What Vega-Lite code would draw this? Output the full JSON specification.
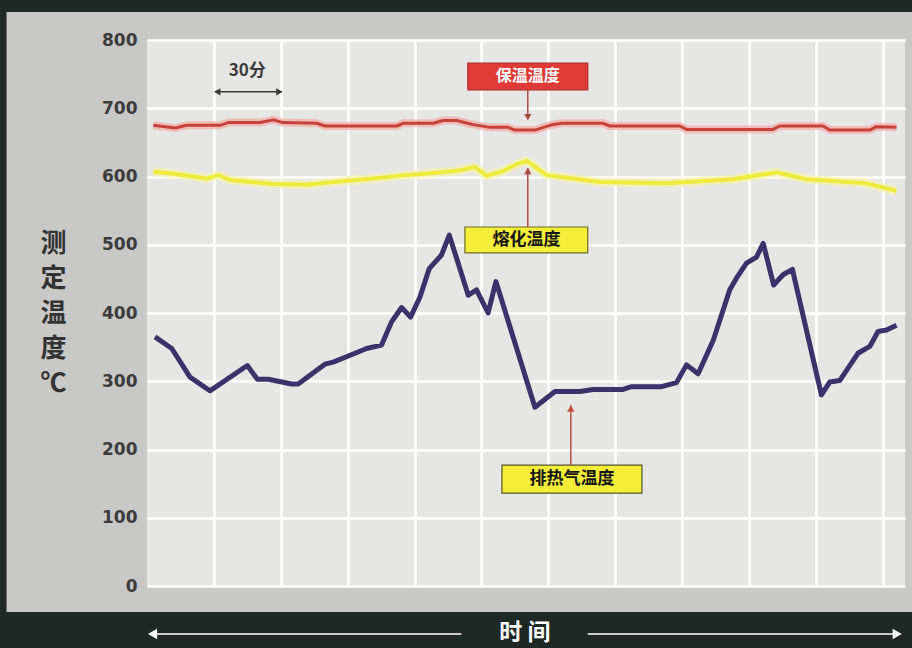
{
  "$schema": "https://vega.github.io/schema/vega-lite/v6.json",
  "width": 758,
  "height": 546,
  "autosize": {"type": "none"},
  "padding": {"left": 147, "top": 40, "right": 7, "bottom": 62},
  "background": "#c8c8c6",
  "view": {"fill": "#e6e6e4", "stroke": null},
  "datasets": {
    "temps": [
      {"series": "保温温度", "t": 2.8, "v": 675},
      {"series": "保温温度", "t": 12.6, "v": 671},
      {"series": "保温温度", "t": 17.8, "v": 675},
      {"series": "保温温度", "t": 32.7, "v": 675},
      {"series": "保温温度", "t": 36.5, "v": 679},
      {"series": "保温温度", "t": 50.7, "v": 679},
      {"series": "保温温度", "t": 56.6, "v": 683},
      {"series": "保温温度", "t": 61.1, "v": 679},
      {"series": "保温温度", "t": 76.1, "v": 678},
      {"series": "保温温度", "t": 79.8, "v": 674},
      {"series": "保温温度", "t": 112.0, "v": 674},
      {"series": "保温温度", "t": 114.9, "v": 678},
      {"series": "保温温度", "t": 128.4, "v": 678},
      {"series": "保温温度", "t": 132.9, "v": 682},
      {"series": "保温温度", "t": 138.9, "v": 682},
      {"series": "保温温度", "t": 146.3, "v": 676},
      {"series": "保温温度", "t": 153.8, "v": 672},
      {"series": "保温温度", "t": 162.0, "v": 672},
      {"series": "保温温度", "t": 165.0, "v": 668},
      {"series": "保温温度", "t": 174.0, "v": 668},
      {"series": "保温温度", "t": 180.7, "v": 675},
      {"series": "保温温度", "t": 185.9, "v": 678},
      {"series": "保温温度", "t": 204.6, "v": 678},
      {"series": "保温温度", "t": 207.6, "v": 674},
      {"series": "保温温度", "t": 239.0, "v": 674},
      {"series": "保温温度", "t": 242.0, "v": 669},
      {"series": "保温温度", "t": 280.8, "v": 669},
      {"series": "保温温度", "t": 283.8, "v": 674},
      {"series": "保温温度", "t": 303.2, "v": 674},
      {"series": "保温温度", "t": 306.3, "v": 668},
      {"series": "保温温度", "t": 324.2, "v": 668},
      {"series": "保温温度", "t": 327.2, "v": 673},
      {"series": "保温温度", "t": 336.2, "v": 672},
      {"series": "熔化温度", "t": 2.8, "v": 607},
      {"series": "熔化温度", "t": 11.8, "v": 604},
      {"series": "熔化温度", "t": 26.8, "v": 597},
      {"series": "熔化温度", "t": 32.0, "v": 602},
      {"series": "熔化温度", "t": 37.2, "v": 595},
      {"series": "熔化温度", "t": 56.6, "v": 589},
      {"series": "熔化温度", "t": 71.6, "v": 588},
      {"series": "熔化温度", "t": 83.5, "v": 592},
      {"series": "熔化温度", "t": 101.5, "v": 597},
      {"series": "熔化温度", "t": 116.4, "v": 602},
      {"series": "熔化温度", "t": 131.4, "v": 606},
      {"series": "熔化温度", "t": 140.4, "v": 609},
      {"series": "熔化温度", "t": 147.1, "v": 614},
      {"series": "熔化温度", "t": 152.3, "v": 601},
      {"series": "熔化温度", "t": 159.8, "v": 608},
      {"series": "熔化温度", "t": 165.8, "v": 618},
      {"series": "熔化温度", "t": 170.4, "v": 623},
      {"series": "熔化温度", "t": 179.2, "v": 602},
      {"series": "熔化温度", "t": 203.1, "v": 592},
      {"series": "熔化温度", "t": 233.0, "v": 590},
      {"series": "熔化温度", "t": 262.9, "v": 596},
      {"series": "熔化温度", "t": 282.3, "v": 606},
      {"series": "熔化温度", "t": 295.8, "v": 596},
      {"series": "熔化温度", "t": 322.7, "v": 590},
      {"series": "熔化温度", "t": 336.2, "v": 579},
      {"series": "排热气温度", "t": 3.6, "v": 365},
      {"series": "排热气温度", "t": 11.1, "v": 348},
      {"series": "排热气温度", "t": 19.3, "v": 306},
      {"series": "排热气温度", "t": 28.2, "v": 286},
      {"series": "排热气温度", "t": 45.0, "v": 323},
      {"series": "排热气温度", "t": 49.5, "v": 303},
      {"series": "排热气温度", "t": 54.4, "v": 303},
      {"series": "排热气温度", "t": 64.9, "v": 296},
      {"series": "排热气温度", "t": 67.8, "v": 296},
      {"series": "排热气温度", "t": 79.8, "v": 325},
      {"series": "排热气温度", "t": 83.5, "v": 328},
      {"series": "排热气温度", "t": 90.3, "v": 337},
      {"series": "排热气温度", "t": 98.5, "v": 348},
      {"series": "排热气温度", "t": 105.2, "v": 353},
      {"series": "排热气温度", "t": 109.7, "v": 387},
      {"series": "排热气温度", "t": 114.2, "v": 408},
      {"series": "排热气温度", "t": 118.2, "v": 394},
      {"series": "排热气温度", "t": 122.4, "v": 423},
      {"series": "排热气温度", "t": 126.6, "v": 465},
      {"series": "排热气温度", "t": 132.1, "v": 485},
      {"series": "排热气温度", "t": 135.6, "v": 514},
      {"series": "排热气温度", "t": 144.1, "v": 426},
      {"series": "排热气温度", "t": 147.8, "v": 434},
      {"series": "排热气温度", "t": 153.0, "v": 400},
      {"series": "排热气温度", "t": 156.5, "v": 446},
      {"series": "排热气温度", "t": 174.0, "v": 262},
      {"series": "排热气温度", "t": 183.0, "v": 285},
      {"series": "排热气温度", "t": 194.2, "v": 285},
      {"series": "排热气温度", "t": 200.1, "v": 288},
      {"series": "排热气温度", "t": 213.6, "v": 288},
      {"series": "排热气温度", "t": 217.3, "v": 292},
      {"series": "排热气温度", "t": 230.8, "v": 292},
      {"series": "排热气温度", "t": 237.5, "v": 298},
      {"series": "排热气温度", "t": 242.0, "v": 324},
      {"series": "排热气温度", "t": 247.2, "v": 311},
      {"series": "排热气温度", "t": 254.0, "v": 360},
      {"series": "排热气温度", "t": 261.4, "v": 434},
      {"series": "排热气温度", "t": 264.4, "v": 451},
      {"series": "排热气温度", "t": 268.9, "v": 473},
      {"series": "排热气温度", "t": 273.4, "v": 482},
      {"series": "排热气温度", "t": 276.4, "v": 502},
      {"series": "排热气温度", "t": 281.1, "v": 441},
      {"series": "排热气温度", "t": 285.3, "v": 456},
      {"series": "排热气温度", "t": 289.5, "v": 464},
      {"series": "排热气温度", "t": 302.5, "v": 280},
      {"series": "排热气温度", "t": 306.3, "v": 299},
      {"series": "排热气温度", "t": 310.7, "v": 301},
      {"series": "排热气温度", "t": 318.9, "v": 341},
      {"series": "排热气温度", "t": 324.2, "v": 351},
      {"series": "排热气温度", "t": 327.9, "v": 373},
      {"series": "排热气温度", "t": 331.7, "v": 375},
      {"series": "排热气温度", "t": 336.2, "v": 382}
    ],
    "frame": [
      {"t": -70, "t2": 350, "v": -38, "v2": -100},
      {"t": -70, "t2": 350, "v": 841, "v2": 870},
      {"t": -70, "t2": -63, "v": -100, "v2": 870}
    ],
    "boxes": [
      {"label": "保温温度", "t": 143.9, "t2": 197.7, "v": 727, "v2": 766},
      {"label": "熔化温度", "t": 142.6, "t2": 197.7, "v": 488, "v2": 526},
      {"label": "排热气温度", "t": 159.2, "t2": 222.0, "v": 136, "v2": 177}
    ],
    "notes": [
      {"label": "30分", "t": 45, "v": 755},
      {"label": "保温温度", "t": 170.8, "v": 747},
      {"label": "熔化温度", "t": 170.2, "v": 507},
      {"label": "排热气温度", "t": 190.6, "v": 156.5},
      {"label": "时 间", "t": 169.5, "v": -69.5}
    ],
    "arrows": [
      {"kind": "30分", "t": 30.5, "v": 724, "t2": 60.4, "v2": 724},
      {"kind": "保温温度", "t": 170.8, "v": 727, "t2": 170.8, "v2": 684},
      {"kind": "熔化温度", "t": 170.8, "v": 526, "t2": 170.8, "v2": 612},
      {"kind": "排热气温度", "t": 190.1, "v": 177, "t2": 190.1, "v2": 265},
      {"kind": "时间", "t": 1.5, "v": -70.5, "t2": 141, "v2": -70.5},
      {"kind": "时间", "t": 197.7, "v": -70.5, "t2": 337.5, "v2": -70.5}
    ],
    "heads": [
      {"kind": "30分", "dir": "left", "t": 31.5, "v": 724},
      {"kind": "30分", "dir": "right", "t": 59.4, "v": 724},
      {"kind": "保温温度", "dir": "down", "t": 170.8, "v": 687},
      {"kind": "熔化温度", "dir": "up", "t": 170.8, "v": 608},
      {"kind": "排热气温度", "dir": "up", "t": 190.1, "v": 260},
      {"kind": "时间", "dir": "left", "t": 2.5, "v": -70.5},
      {"kind": "时间", "dir": "right", "t": 336.5, "v": -70.5}
    ]
  },
  "encoding": {
    "x": {
      "field": "t", "type": "quantitative",
      "scale": {"domain": [0, 340], "nice": false, "zero": false},
      "axis": {"title": null, "values": [30, 60, 90, 120, 150, 180, 210, 240, 270, 300, 330], "labels": false, "ticks": false, "domain": false, "grid": true, "gridColor": "#ffffff", "gridWidth": 2.5}
    },
    "y": {
      "field": "v", "type": "quantitative",
      "scale": {"domain": [0, 800], "nice": false, "zero": false},
      "axis": {
        "values": [0, 100, 200, 300, 400, 500, 600, 700, 800],
        "title": ["测", "定", "温", "度", "℃"],
        "titleAngle": 0, "titleX": -94, "titleY": 203, "titleAlign": "center", "titleBaseline": "middle",
        "titleFont": "Noto Sans CJK SC", "titleFontSize": 26, "titleFontWeight": "bold", "titleLineHeight": 35, "titleColor": "#333333",
        "labelFont": "DejaVu Sans", "labelFontSize": 17, "labelFontWeight": "bold", "labelColor": "#3c3c3c", "labelPadding": 10,
        "labelFlush": false, "labelOverlap": false, "labelBaseline": "middle",
        "ticks": false, "domain": false, "grid": true, "gridColor": "#ffffff", "gridWidth": 2.5
      }
    }
  },
  "layer": [
    {
      "data": {"name": "frame"},
      "mark": {"type": "rect", "color": "#1e2824"},
      "encoding": {"x2": {"field": "t2"}, "y2": {"field": "v2"}}
    },
    {
      "data": {"name": "temps"},
      "transform": [{"filter": "datum.series === '保温温度'"}],
      "mark": {"type": "line", "color": "#f2aaa6", "strokeWidth": 8, "opacity": 0.7, "strokeJoin": "round"},
      "encoding": {}
    },
    {
      "data": {"name": "temps"},
      "transform": [{"filter": "datum.series === '熔化温度'"}],
      "mark": {"type": "line", "color": "#f6f4a8", "strokeWidth": 9, "opacity": 0.7, "strokeJoin": "round"},
      "encoding": {}
    },
    {
      "data": {"name": "temps"},
      "mark": {"type": "line", "strokeJoin": "round"},
      "encoding": {
        "color": {"field": "series", "type": "nominal", "scale": {"domain": ["保温温度", "熔化温度", "排热气温度"], "range": ["#c6423a", "#eeeb3e", "#3b3269"]}, "legend": null},
        "strokeWidth": {"field": "series", "type": "nominal", "scale": {"domain": ["保温温度", "熔化温度", "排热气温度"], "range": [3, 5, 3]}, "legend": null}
      }
    },
    {
      "data": {"name": "boxes"},
      "mark": {"type": "rect", "strokeWidth": 1.2},
      "encoding": {
        "x2": {"field": "t2"}, "y2": {"field": "v2"},
        "fill": {"field": "label", "type": "nominal", "scale": {"domain": ["保温温度", "熔化温度", "排热气温度"], "range": ["#e03b36", "#f4ee38", "#f4ee38"]}, "legend": null},
        "stroke": {"field": "label", "type": "nominal", "scale": {"domain": ["保温温度", "熔化温度", "排热气温度"], "range": ["#b02a28", "#6d6a2a", "#55522a"]}, "legend": null}
      }
    },
    {
      "data": {"name": "arrows"},
      "mark": {"type": "rule"},
      "encoding": {
        "x2": {"field": "t2"}, "y2": {"field": "v2"},
        "color": {"field": "kind", "type": "nominal", "scale": {"domain": ["30分", "保温温度", "熔化温度", "排热气温度", "时间"], "range": ["#3a3a3a", "#b04a3e", "#b04a3e", "#c0503e", "#ffffff"]}, "legend": null},
        "strokeWidth": {"field": "kind", "type": "nominal", "scale": {"domain": ["30分", "保温温度", "熔化温度", "排热气温度", "时间"], "range": [1.5, 1.5, 1.5, 1.5, 3]}, "legend": null}
      }
    },
    {
      "data": {"name": "heads"},
      "transform": [{"filter": "datum.kind !== '时间'"}],
      "mark": {"type": "point", "filled": true, "opacity": 1, "size": 55},
      "encoding": {
        "shape": {"field": "dir", "type": "nominal", "scale": {"domain": ["up", "down", "left", "right"], "range": ["triangle-up", "triangle-down", "triangle-left", "triangle-right"]}, "legend": null},
        "color": {"field": "kind", "type": "nominal", "scale": {"domain": ["30分", "保温温度", "熔化温度", "排热气温度"], "range": ["#3a3a3a", "#b04a3e", "#b04a3e", "#c0503e"]}, "legend": null}
      }
    },
    {
      "data": {"name": "heads"},
      "transform": [{"filter": "datum.kind === '时间'"}],
      "mark": {"type": "point", "filled": true, "opacity": 1, "size": 110, "color": "#ffffff"},
      "encoding": {
        "shape": {"field": "dir", "type": "nominal", "scale": {"domain": ["up", "down", "left", "right"], "range": ["triangle-up", "triangle-down", "triangle-left", "triangle-right"]}, "legend": null}
      }
    },
    {
      "data": {"name": "notes"},
      "transform": [{"filter": "datum.label === '30分'"}],
      "mark": {"type": "text", "font": "Noto Sans CJK SC", "fontWeight": "bold", "fontSize": 17, "color": "#3a3a3a", "align": "center", "baseline": "middle"},
      "encoding": {"text": {"field": "label"}}
    },
    {
      "data": {"name": "notes"},
      "transform": [{"filter": "datum.label === '保温温度'"}],
      "mark": {"type": "text", "font": "Noto Sans CJK SC", "fontWeight": "bold", "fontSize": 16, "color": "#ffffff", "align": "center", "baseline": "middle"},
      "encoding": {"text": {"field": "label"}}
    },
    {
      "data": {"name": "notes"},
      "transform": [{"filter": "datum.label === '熔化温度' || datum.label === '排热气温度'"}],
      "mark": {"type": "text", "font": "Noto Sans CJK SC", "fontWeight": "bold", "fontSize": 17, "color": "#151515", "align": "center", "baseline": "middle"},
      "encoding": {"text": {"field": "label"}}
    },
    {
      "data": {"name": "notes"},
      "transform": [{"filter": "datum.label === '时 间'"}],
      "mark": {"type": "text", "font": "Noto Sans CJK SC", "fontWeight": "bold", "fontSize": 23, "color": "#ffffff", "align": "center", "baseline": "middle"},
      "encoding": {"text": {"field": "label"}}
    }
  ],
  "resolve": {"scale": {"color": "independent", "fill": "independent", "stroke": "independent", "shape": "independent", "strokeWidth": "independent"}}
}
